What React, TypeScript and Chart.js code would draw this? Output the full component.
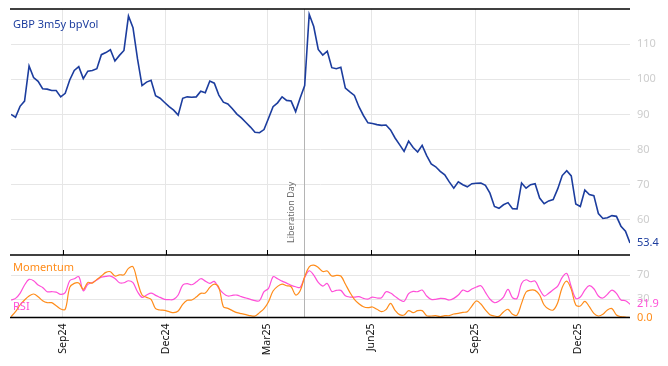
import React, { useEffect, useRef } from 'react';
import { Chart, registerables } from 'chart.js';

Chart.register(...registerables);

// ---------- data ----------
const dates = [
  '2024-07-17','2024-07-21','2024-07-25','2024-07-29','2024-08-02','2024-08-06','2024-08-10','2024-08-14','2024-08-18','2024-08-22',
  '2024-08-26','2024-08-30','2024-09-03','2024-09-07','2024-09-11','2024-09-15','2024-09-19','2024-09-23','2024-09-27','2024-10-01',
  '2024-10-05','2024-10-09','2024-10-13','2024-10-17','2024-10-21','2024-10-25','2024-10-29','2024-11-02','2024-11-06','2024-11-10',
  '2024-11-14','2024-11-18','2024-11-22','2024-11-26','2024-11-30','2024-12-04','2024-12-08','2024-12-12','2024-12-16','2024-12-20',
  '2024-12-24','2024-12-28','2025-01-01','2025-01-05','2025-01-09','2025-01-13','2025-01-17','2025-01-21','2025-01-25','2025-01-29',
  '2025-02-02','2025-02-06','2025-02-10','2025-02-14','2025-02-18','2025-02-22','2025-02-26','2025-03-02','2025-03-06','2025-03-10',
  '2025-03-14','2025-03-18','2025-03-22','2025-03-26','2025-03-30','2025-04-03','2025-04-07','2025-04-11','2025-04-15','2025-04-19',
  '2025-04-23','2025-04-27','2025-05-01','2025-05-05','2025-05-09','2025-05-13','2025-05-17','2025-05-21','2025-05-25','2025-05-29',
  '2025-06-02','2025-06-06','2025-06-10','2025-06-14','2025-06-18','2025-06-22','2025-06-26','2025-06-30','2025-07-04','2025-07-08',
  '2025-07-12','2025-07-16','2025-07-20','2025-07-24','2025-07-28','2025-08-01','2025-08-05','2025-08-09','2025-08-13','2025-08-17',
  '2025-08-21','2025-08-25','2025-08-29','2025-09-02','2025-09-06','2025-09-10','2025-09-14','2025-09-18','2025-09-22','2025-09-26',
  '2025-09-30','2025-10-04','2025-10-08','2025-10-12','2025-10-16','2025-10-20','2025-10-24','2025-10-28','2025-11-01','2025-11-05',
  '2025-11-09','2025-11-13','2025-11-17','2025-11-21','2025-11-25','2025-11-29','2025-12-03','2025-12-07','2025-12-11','2025-12-15',
  '2025-12-19','2025-12-23','2025-12-27','2025-12-31','2026-01-04','2026-01-08','2026-01-12','2026-01-16',
];

const volValues = [
  90.0, 89.2, 92.3, 93.8, 103.8, 100.5, 99.4, 97.3, 97.2, 96.8,
  96.8, 95.0, 96.0, 99.8, 102.5, 103.6, 100.2, 102.3, 102.5, 103.0,
  107.0, 107.6, 108.4, 105.2, 106.8, 108.2, 118.0, 114.7, 105.8, 98.2,
  99.2, 99.7, 95.3, 94.6, 93.4, 92.2, 91.2, 89.8, 94.6, 95.0,
  94.9, 95.0, 96.6, 96.2, 99.5, 98.9, 95.5, 93.5, 93.0, 91.6,
  90.1, 89.0, 87.7, 86.4, 84.9, 84.8, 85.7, 88.9, 92.2, 93.3,
  95.0, 94.0, 93.8, 90.8, 94.7, 98.2, 118.5, 115.0, 108.5, 106.9,
  108.0, 103.3, 103.0, 103.4, 97.5, 96.4, 95.4, 92.2, 89.7, 87.6,
  87.4, 87.1, 86.9, 87.0, 85.6, 83.3, 81.4, 79.5, 82.4, 80.6,
  79.3, 81.2, 78.3, 75.9, 75.1, 73.8, 72.8, 70.8, 69.0, 70.8,
  70.0, 69.4, 70.3, 70.4, 70.5, 69.8, 67.6, 63.8, 63.3, 64.3,
  64.9, 63.2, 63.1, 70.5, 69.0, 70.0, 70.3, 66.2, 64.6, 65.4,
  65.8, 68.8, 72.6, 74.0, 72.5, 64.5, 63.8, 68.5, 67.2, 66.9,
  61.8, 60.4, 60.6, 61.2, 61.0, 58.2, 56.8, 53.4,
];

const momentumValues = [
  1.4, 9.6, 20.6, 28.8, 35.4, 38.7, 34.3, 27.7, 24.4, 24.4,
  19.5, 14.0, 13.5, 49.6, 56.2, 56.7, 46.3, 57.8, 56.7, 62.8,
  68.3, 74.3, 75.4, 68.3, 70.4, 70.4, 80.9, 83.6, 58.9, 37.0,
  33.2, 29.9, 14.6, 12.4, 11.8, 9.6, 8.0, 10.7, 21.7, 28.3,
  28.8, 33.7, 39.8, 40.3, 49.6, 55.1, 49.6, 17.8, 15.1, 11.3,
  8.0, 6.3, 4.7, 3.0, 2.5, 8.0, 14.6, 26.1, 43.6, 51.3,
  55.1, 52.4, 50.7, 37.0, 44.1, 67.2, 83.6, 86.3, 82.5, 75.9,
  76.5, 68.3, 69.4, 68.3, 55.1, 41.4, 29.9, 22.8, 17.8, 16.2,
  17.3, 13.5, 9.6, 12.9, 23.3, 11.8, 4.7, 4.1, 11.3, 8.0,
  11.3, 11.3, 3.0, 2.5, 3.0, 1.4, 3.0, 3.0, 5.8, 6.9,
  8.5, 9.6, 18.9, 27.2, 22.2, 12.4, 4.7, 2.5, 1.9, 9.1,
  13.5, 5.2, 4.1, 23.3, 42.0, 45.2, 44.7, 37.0, 20.6, 14.0,
  12.4, 24.4, 49.6, 60.0, 46.3, 20.6, 18.9, 26.6, 17.8, 6.9,
  2.5, 5.2, 12.4, 14.6, 4.1, 1.4, 0.8, 0.0,
];

const rsiValues = [
  28.8, 31.5, 39.8, 53.5, 62.8, 60.6, 53.5, 49.6, 42.5, 42.5,
  41.9, 38.1, 40.9, 60.6, 63.9, 67.2, 44.1, 54.6, 57.8, 61.7,
  66.6, 67.7, 68.3, 64.4, 57.3, 57.3, 60.6, 57.3, 42.5, 33.2,
  37.0, 40.3, 36.5, 33.2, 29.9, 29.3, 29.9, 37.0, 53.5, 55.7,
  54.0, 58.4, 63.9, 60.0, 56.2, 59.5, 48.0, 39.8, 35.4, 36.5,
  37.0, 34.3, 32.1, 29.9, 27.7, 27.7, 42.5, 48.0, 67.2, 63.9,
  60.0, 56.7, 52.9, 50.7, 49.6, 66.1, 77.0, 69.9, 57.8, 51.8,
  56.2, 43.0, 44.7, 44.7, 35.9, 33.7, 33.7, 34.3, 31.5, 30.4,
  33.7, 32.1, 32.6, 42.5, 40.3, 34.8, 29.3, 26.6, 39.2, 43.0,
  42.5, 45.2, 35.4, 29.9, 29.9, 31.5, 31.0, 28.8, 31.5, 37.0,
  45.2, 42.5, 46.9, 50.2, 52.4, 41.4, 30.4, 24.4, 27.2, 33.7,
  46.3, 32.6, 31.5, 56.2, 62.2, 58.9, 60.0, 46.3, 35.4, 39.8,
  45.8, 51.8, 66.1, 72.6, 50.7, 31.5, 33.7, 45.2, 52.4, 47.4,
  35.4, 32.1, 38.1, 45.2, 39.8, 28.8, 27.7, 21.9,
];

const tickDates = ['2024-09-01', '2024-12-01', '2025-03-01', '2025-06-01', '2025-09-01', '2025-12-01'];
const tickLabels = ['Sep24', 'Dec24', 'Mar25', 'Jun25', 'Sep25', 'Dec25'];
const volTicks = [60, 70, 80, 90, 100, 110];
const indicatorTicks = [30, 70];
const eventDate = '2025-04-02';
const eventLabel = 'Liberation Day';
const seriesNames = ['GBP 3m5y bpVol', 'Momentum', 'RSI'];

// ---------- styling ----------
const BLUE = '#1c3d9e';
const ORANGE = '#ff8c1a';
const PINK = '#ff50d8';
const GRID = '#e6e6e6';
const TICK_GREY = '#cdcdcd';
const FONT = '"Noto Sans", "DejaVu Sans", sans-serif';

const toDay = (s: string) => Date.parse(s + 'T00:00:00Z') / 86400000;

const noPad = (s: any) => {
  s.paddingTop = 0;
  s.paddingBottom = 0;
  s.paddingLeft = 0;
  s.paddingRight = 0;
};

const overlayPlugin = {
  id: 'overlay',
  beforeDatasetsDraw(chart: any) {
    const { ctx, chartArea: a, scales } = chart;
    const x = Math.round(scales.x.getPixelForValue(toDay(eventDate))) + 0.5;
    ctx.save();
    ctx.strokeStyle = '#b4b4b4';
    ctx.lineWidth = 1;
    ctx.beginPath();
    ctx.moveTo(x, a.top);
    ctx.lineTo(x, a.bottom);
    ctx.stroke();
    ctx.translate(x - 13, scales.y.bottom - 12);
    ctx.rotate(-Math.PI / 2);
    ctx.font = `9px ${FONT}`;
    ctx.fillStyle = '#6a6a6a';
    ctx.textAlign = 'left';
    ctx.textBaseline = 'middle';
    ctx.fillText(eventLabel, 0, 0);
    ctx.restore();
  },
  afterDraw(chart: any) {
    const { ctx, chartArea: a, scales } = chart;
    const mid = scales.y.bottom;
    ctx.save();
    ctx.strokeStyle = '#000';
    ctx.lineWidth = 1.5;
    [a.top, mid, a.bottom].forEach((yy: number) => {
      ctx.beginPath();
      ctx.moveTo(a.left - 1, yy);
      ctx.lineTo(a.right, yy);
      ctx.stroke();
    });
    ctx.lineWidth = 1;
    scales.x.ticks.forEach((t: any) => {
      const px = Math.round(scales.x.getPixelForValue(t.value)) + 0.5;
      ctx.beginPath();
      ctx.moveTo(px, mid - 5);
      ctx.lineTo(px, mid);
      ctx.stroke();
    });

    ctx.font = `11px ${FONT}`;
    ctx.textAlign = 'left';
    ctx.textBaseline = 'middle';
    ctx.fillStyle = BLUE;
    ctx.fillText(seriesNames[0], a.left + 2, a.top + 16);
    ctx.fillStyle = ORANGE;
    ctx.fillText(seriesNames[1], a.left + 2, mid + 13);
    ctx.fillStyle = PINK;
    ctx.fillText(seriesNames[2], a.left + 2, a.bottom - 11);

    const lx = a.right + 7;
    const lastVol = volValues[volValues.length - 1];
    const lastRsi = rsiValues[rsiValues.length - 1];
    const lastMom = momentumValues[momentumValues.length - 1];
    ctx.fillStyle = BLUE;
    ctx.fillText(lastVol.toFixed(1), lx, scales.y.getPixelForValue(lastVol));
    ctx.fillStyle = PINK;
    ctx.fillText(lastRsi.toFixed(1), lx, scales.y2.getPixelForValue(lastRsi));
    ctx.fillStyle = ORANGE;
    ctx.fillText(lastMom.toFixed(1), lx, scales.y2.getPixelForValue(lastMom));
    ctx.restore();
  },
};

export default function App() {
  const ref = useRef<HTMLCanvasElement | null>(null);

  useEffect(() => {
    const canvas = ref.current;
    if (!canvas) return;
    const days = dates.map(toDay);
    const chart = new Chart(canvas, {
      type: 'line',
      data: {
        datasets: [
          {
            label: seriesNames[0],
            data: days.map((d, i) => ({ x: d, y: volValues[i] })),
            yAxisID: 'y',
            borderColor: BLUE,
            borderWidth: 1.6,
            pointRadius: 0,
            tension: 0,
          },
          {
            label: seriesNames[1],
            data: days.map((d, i) => ({ x: d, y: momentumValues[i] })),
            yAxisID: 'y2',
            borderColor: ORANGE,
            borderWidth: 1.2,
            pointRadius: 0,
            tension: 0.35,
          },
          {
            label: seriesNames[2],
            data: days.map((d, i) => ({ x: d, y: rsiValues[i] })),
            yAxisID: 'y2',
            borderColor: PINK,
            borderWidth: 1.2,
            pointRadius: 0,
            tension: 0.35,
          },
        ],
      },
      options: {
        animation: false,
        responsive: false,
        events: [],
        layout: { padding: { left: 11, top: 9, right: 0, bottom: 0 } },
        plugins: { legend: { display: false }, tooltip: { enabled: false } },
        scales: {
          x: {
            type: 'linear',
            min: toDay(dates[0]),
            max: toDay(dates[dates.length - 1]),
            position: 'bottom',
            border: { display: false },
            grid: { color: GRID, drawTicks: false },
            afterBuildTicks: (s: any) => {
              s.ticks = tickDates.map((d) => ({ value: toDay(d) }));
            },
            afterFit: (s: any) => {
              s.height = 48.5;
              noPad(s);
            },
            ticks: {
              autoSkip: false,
              minRotation: 90,
              maxRotation: 90,
              padding: 6,
              color: '#111',
              font: { family: FONT, size: 10.5 },
              callback: (v: any) => {
                const idx = tickDates.findIndex((d) => toDay(d) === v);
                return idx >= 0 ? tickLabels[idx] : '';
              },
            },
          },
          y: {
            type: 'linear',
            position: 'right',
            stack: 'panels',
            stackWeight: 246,
            min: 50,
            max: 120,
            border: { display: false },
            grid: { color: GRID, drawTicks: false },
            afterBuildTicks: (s: any) => {
              s.ticks = volTicks.map((v) => ({ value: v }));
            },
            afterFit: (s: any) => {
              s.width = 38;
              noPad(s);
            },
            ticks: {
              padding: 7,
              color: TICK_GREY,
              font: { family: FONT, size: 11 },
            },
          },
          y2: {
            type: 'linear',
            position: 'right',
            stack: 'panels',
            stackWeight: 62.5,
            min: 0,
            max: 103,
            border: { display: false },
            grid: { color: GRID, drawTicks: false },
            afterBuildTicks: (s: any) => {
              s.ticks = indicatorTicks.map((v) => ({ value: v }));
            },
            afterFit: (s: any) => {
              s.width = 38;
              noPad(s);
            },
            ticks: {
              padding: 7,
              color: TICK_GREY,
              font: { family: FONT, size: 11 },
            },
          },
        },
      },
      plugins: [overlayPlugin],
    } as any);
    return () => chart.destroy();
  }, []);

  return (
    <div style={{ position: 'absolute', left: 0, top: 0, width: 668, height: 366, background: '#fff' }}>
      <canvas ref={ref} width={668} height={366} style={{ display: 'block', width: 668, height: 366 }} />
    </div>
  );
}
